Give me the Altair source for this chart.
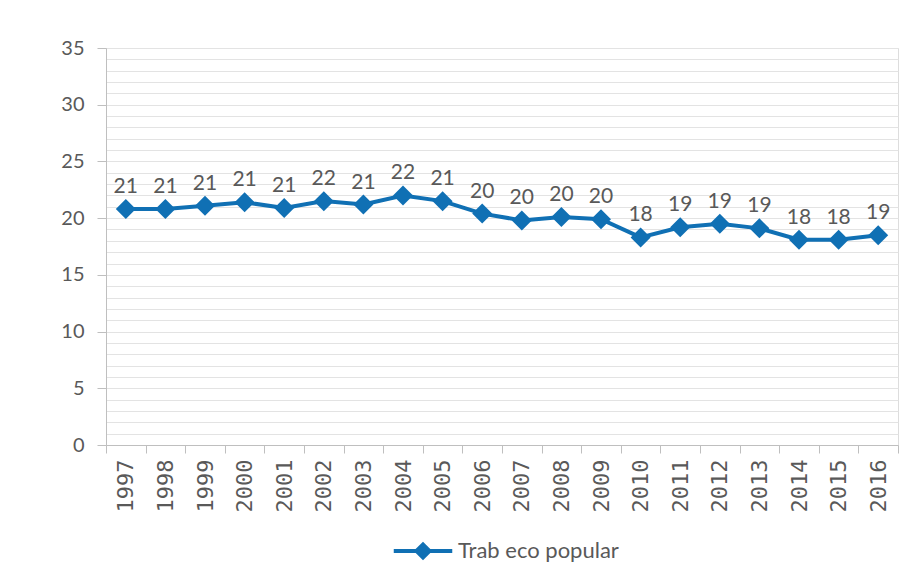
import altair as alt
import pandas as pd

years = [str(y) for y in range(1997, 2017)]
values = [20.8, 20.8, 21.1, 21.4, 20.9, 21.5, 21.2, 22.0, 21.5, 20.4,
          19.8, 20.1, 19.9, 18.3, 19.2, 19.5, 19.1, 18.1, 18.1, 18.5]
labels = ["21", "21", "21", "21", "21", "22", "21", "22", "21", "20",
          "20", "20", "20", "18", "19", "19", "19", "18", "18", "19"]
series_name = "Trab eco popular"
y_major = list(range(0, 36, 5))
y_minor = list(range(0, 36, 1))

df = pd.DataFrame({"year": years, "value": values, "label": labels,
                   "serie": [series_name] * len(years)})

BLUE = "#1070B4"
TXT = "#595959"
AXIS_C = "#BFBFBF"
GRID_C = "#E3E3E3"

x_enc = alt.X(
    "year:O",
    scale=alt.Scale(type="band", paddingInner=0, paddingOuter=0),
    axis=alt.Axis(title=None, labelAngle=-90, tickBand="extent", grid=False,
                  domainColor=AXIS_C, tickColor=AXIS_C, tickSize=8,
                  labelFont="DejaVu Sans Mono", labelFontSize=22,
                  labelColor=TXT, labelPadding=6, labelAlign="right",
                  labelBaseline="middle"),
)
y_scale = alt.Scale(domain=[0, 35], nice=False, zero=True)

grid = alt.Chart(df).mark_point(opacity=0).encode(
    y=alt.Y("value:Q", scale=y_scale,
            axis=alt.Axis(orient="right", values=y_minor, grid=True,
                          gridColor=GRID_C, gridWidth=1, labels=False,
                          ticks=False, domain=False, title=None))
)

line = alt.Chart(df).mark_line(strokeWidth=4).encode(
    x=x_enc,
    y=alt.Y("value:Q", scale=y_scale,
            axis=alt.Axis(orient="left", values=y_major, grid=False, title=None,
                          domainColor=AXIS_C, tickColor=AXIS_C, tickSize=9,
                          labelFont="Lato", labelFontSize=20, labelColor=TXT,
                          labelPadding=13)),
    color=alt.Color("serie:N", scale=alt.Scale(range=[BLUE]),
                    legend=alt.Legend(title=None, orient="none", legendX=306,
                                      legendY=492, padding=0,
                                      symbolType="M-4.5,0L4.5,0M-1,0L0,-1L1,0L0,1Z",
                                      symbolSize=169, symbolStrokeWidth=4,
                                      symbolFillColor=BLUE, symbolStrokeColor=BLUE,
                                      labelOffset=24, labelFont="Lato",
                                      labelFontSize=22, labelColor=TXT,
                                      labelLimit=400)),
)

points = alt.Chart(df).mark_point(shape="diamond", filled=True, size=400,
                                  opacity=1, color=BLUE).encode(
    x=x_enc, y=alt.Y("value:Q", scale=y_scale, axis=None)
)

text = alt.Chart(df).mark_text(font="Lato", fontSize=21, color=TXT, dy=-22,
                               baseline="middle").encode(
    x=x_enc, y=alt.Y("value:Q", scale=y_scale, axis=None), text="label:N"
)

chart = alt.layer(grid, line, points, text).resolve_axis(y="independent").properties(
    width=792, height=397,
    autosize=alt.AutoSizeParams(type="none"),
    padding={"left": 98, "top": 40, "right": 14, "bottom": 130},
).configure_view(stroke=None).configure(background="white")

chart.save("out.html", embed_options={"renderer": "svg", "actions": False})
